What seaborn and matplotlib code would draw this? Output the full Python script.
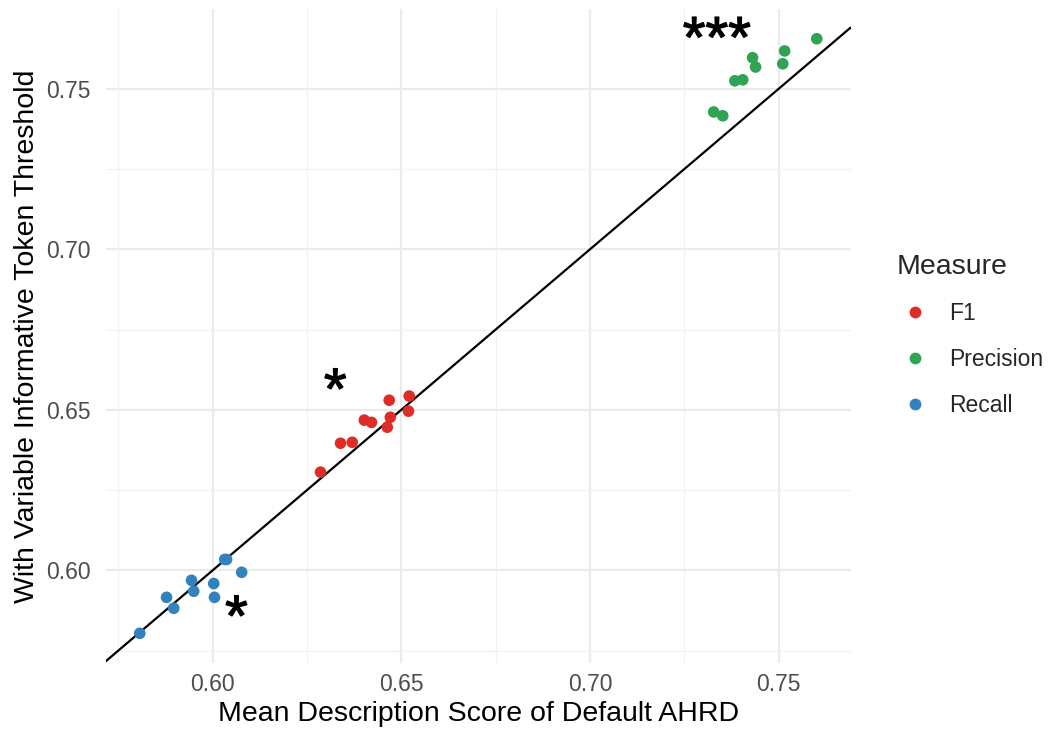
import numpy as np
import pandas as pd
import matplotlib
matplotlib.use("Agg")
import matplotlib.pyplot as plt
import matplotlib.patheffects as pe
import seaborn as sns

# Mean description scores: default AHRD (x) vs. variable informative token threshold (y)
recall_x = [0.5807, 0.5878, 0.5897, 0.5944, 0.5950, 0.6003, 0.6005, 0.6032, 0.6037, 0.6077]
recall_y = [0.5804, 0.5916, 0.5882, 0.5969, 0.5935, 0.5959, 0.5916, 0.6034, 0.6034, 0.5994]

f1_x = [0.6286, 0.6339, 0.6370, 0.6402, 0.6421, 0.6468, 0.6471, 0.6463, 0.6521, 0.6519]
f1_y = [0.6306, 0.6396, 0.6399, 0.6468, 0.6461, 0.6530, 0.6477, 0.6446, 0.6543, 0.6496]

precision_x = [0.7328, 0.7352, 0.7384, 0.7405, 0.7431, 0.7439, 0.7511, 0.7516, 0.7601]
precision_y = [0.7428, 0.7416, 0.7525, 0.7528, 0.7597, 0.7568, 0.7578, 0.7618, 0.7656]

measures = ["F1", "Precision", "Recall"]
palette = {"F1": "#de2d26", "Precision": "#31a354", "Recall": "#3182bd"}

# Significance markers (label, x, y) -- centre of the asterisk glyphs
signif = [("***", 0.7336, 0.7684), ("*", 0.6325, 0.6589), ("*", 0.6063, 0.5882)]

ticks = [0.60, 0.65, 0.70, 0.75]
tick_labels = ["0.60", "0.65", "0.70", "0.75"]
minor_ticks = [0.575, 0.625, 0.675, 0.725]

df = pd.concat([
    pd.DataFrame({"x": f1_x, "y": f1_y, "Measure": "F1"}),
    pd.DataFrame({"x": precision_x, "y": precision_y, "Measure": "Precision"}),
    pd.DataFrame({"x": recall_x, "y": recall_y, "Measure": "Recall"}),
])

sns.set_theme(style="whitegrid")
plt.rcParams["font.family"] = ["Liberation Sans", "DejaVu Sans"]

fig = plt.figure(figsize=(10.54, 7.34), dpi=100)
ax = fig.add_axes([0.1005, 0.0967, 0.7065, 0.891])

sns.scatterplot(data=df, x="x", y="y", hue="Measure", hue_order=measures,
                palette=palette, s=70, edgecolor="none", linewidth=0, ax=ax,
                zorder=3, legend=False)

# identity line
ax.axline((0.6, 0.6), slope=1, color="black", lw=1.6, zorder=2)

ast_size = 42
for lab, tx, ty in signif:
    ax.annotate(lab, (tx, ty), xytext=(0, -0.47 * ast_size), textcoords="offset points",
                ha="center", va="baseline", fontsize=ast_size, color="black", zorder=4,
                path_effects=[pe.withStroke(linewidth=0.9, foreground="black")])

xmin, xmax = min(recall_x), max(precision_x)
ymin, ymax = min(recall_y), max(precision_y)
dx, dy = (xmax - xmin) * 0.05, (ymax - ymin) * 0.05
ax.set_xlim(xmin - dx, xmax + dx)
ax.set_ylim(ymin - dy, ymax + dy)

ax.set_xticks(ticks)
ax.set_yticks(ticks)
ax.set_xticks(minor_ticks, minor=True)
ax.set_yticks(minor_ticks, minor=True)
ax.set_xticklabels(tick_labels)
ax.set_yticklabels(tick_labels)

ax.grid(which="major", color="#ebebeb", lw=1.6)
ax.grid(which="minor", color="#f2f2f2", lw=0.9)
ax.tick_params(which="both", length=0, labelsize=16.5, labelcolor="#4d4d4d")
ax.tick_params(axis="x", which="both", pad=7)
ax.tick_params(axis="y", which="both", pad=11)
for sp in ax.spines.values():
    sp.set_visible(False)
ax.set_facecolor("white")

ax.set_xlabel("Mean Description Score of Default AHRD", fontsize=20.5, color="black")
ax.set_ylabel("With Variable Informative Token Threshold", fontsize=20.5, color="black")
ax.xaxis.set_label_coords(0.5, -0.058)
ax.yaxis.set_label_coords(-0.089, 0.5)

# Legend
handles = [plt.Line2D([], [], marker="o", ls="none", markersize=8.5,
                      markerfacecolor=palette[m], markeredgecolor="none", label=m)
           for m in measures]
leg = fig.legend(handles=handles, title="Measure", loc="upper left",
                 bbox_to_anchor=(0.842, 0.667), frameon=False, fontsize=16.5,
                 title_fontsize=20.5, labelspacing=1.0, handletextpad=0.7,
                 handlelength=1.6, borderaxespad=0)
leg._legend_box.align = "left"
leg._legend_box.sep = 16

fig.savefig("out.png", dpi=100)
